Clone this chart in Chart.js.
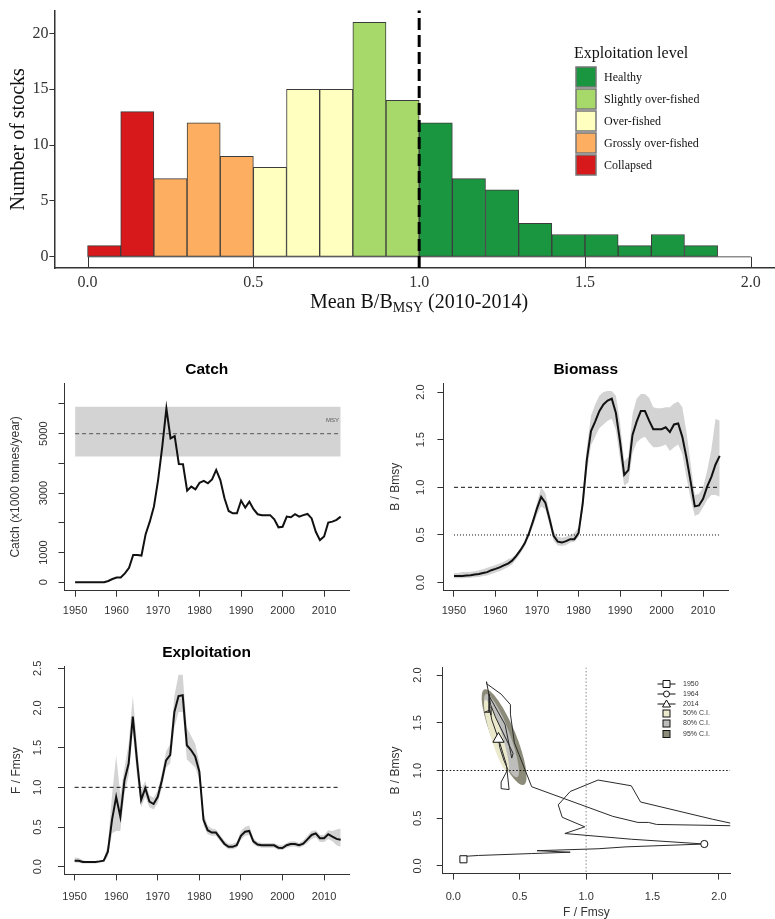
<!DOCTYPE html>
<html><head><meta charset="utf-8">
<script src="https://cdn.jsdelivr.net/npm/chart.js@4.4.0/dist/chart.umd.min.js"></script>
<style>
html,body{margin:0;padding:0;background:#fff;overflow:hidden;width:775px;height:919px;position:relative;}
canvas{position:absolute;display:block;}
</style></head><body>
<canvas id="hist" width="775" height="320" style="left:0;top:0"></canvas>
<canvas id="catch" width="390" height="265" style="left:0;top:355px"></canvas>
<canvas id="biomass" width="385" height="265" style="left:390px;top:355px"></canvas>
<canvas id="exploit" width="390" height="284" style="left:0;top:635px"></canvas>
<canvas id="kobe" width="385" height="270" style="left:390px;top:655px"></canvas>
<script>
// ---------------- DATA ----------------
// Histogram
const binEdges = [0.0,0.1,0.2,0.3,0.4,0.5,0.6,0.7,0.8,0.9,1.0,1.1,1.2,1.3,1.4,1.5,1.6,1.7,1.8,1.9,2.0];
const stockCounts = [1,13,7,12,9,8,15,15,21,14,12,7,6,3,2,2,1,2,1,0];
const levelNames = ['Healthy','Slightly over-fished','Over-fished','Grossly over-fished','Collapsed'];
const levelColors = ['#1A9641','#A6D96A','#FFFFBF','#FDAE61','#D7191C'];
const levelLowerBounds = [1.0,0.8,0.5,0.2,0.0];
const histXTicks = [0,0.5,1.0,1.5,2.0];
const histYTicks = [0,5,10,15,20];
const bmsyThreshold = 1.0;

// Time series
const firstYear = 1950, lastYear = 2014;
const years = Array.from({length: lastYear - firstYear + 1}, (_, i) => firstYear + i);
const catchK = [0,0,0,0,0,0,0,0,45,110,
  160,160,300,490,920,920,900,1620,2040,2550,
  3440,4560,5850,4840,4920,3980,3970,3080,3220,3130,
  3350,3410,3330,3460,3780,3440,2830,2400,2320,2320,
  2750,2510,2710,2460,2290,2260,2260,2260,2120,1850,
  1870,2210,2190,2290,2210,2260,2300,2150,1700,1420,
  1540,2010,2040,2100,2210];
const msyValue = 5000, msyLow = 4230, msyHigh = 5910;

const bBmsy = [0.07,0.07,0.07,0.074,0.077, 0.084,0.09,0.10,0.11,0.13,
  0.144,0.16,0.18,0.20,0.23, 0.28,0.34,0.41,0.51,0.64,
  0.78,0.90,0.84,0.67,0.49, 0.43,0.42,0.435,0.456,0.456,
  0.52,0.83,1.29,1.59,1.69, 1.80,1.87,1.91,1.93,1.78,
  1.48,1.13,1.18,1.55,1.69, 1.80,1.80,1.70,1.61,1.61,
  1.61,1.63,1.58,1.66,1.67, 1.53,1.31,1.06,0.80,0.81,
  0.88,1.01,1.11,1.24,1.33];
const bBmsyUpper = [0.10,0.10,0.11,0.11,0.115, 0.12,0.13,0.14,0.155,0.17,
  0.185,0.20,0.22,0.245,0.26, 0.30,0.36,0.43,0.53,0.67,
  0.84,1.00,0.94,0.74,0.54, 0.48,0.47,0.48,0.50,0.52,
  0.58,0.92,1.42,1.75,1.87, 1.96,2.00,2.01,2.01,1.96,
  1.68,1.27,1.32,1.77,1.93, 1.98,1.98,1.94,1.84,1.83,
  1.83,1.84,1.84,1.88,1.90, 1.84,1.58,1.25,0.92,0.93,
  1.00,1.18,1.40,1.72,1.70];
const bBmsyLower = [0.045,0.045,0.046,0.048,0.05, 0.055,0.06,0.068,0.075,0.09,
  0.105,0.12,0.14,0.165,0.19, 0.245,0.305,0.375,0.47,0.59,
  0.71,0.80,0.77,0.61,0.44, 0.39,0.385,0.395,0.42,0.43,
  0.48,0.75,1.16,1.44,1.53, 1.62,1.66,1.70,1.72,1.60,
  1.30,1.02,1.05,1.36,1.47, 1.51,1.53,1.47,1.42,1.42,
  1.43,1.45,1.38,1.42,1.45, 1.35,1.10,0.88,0.70,0.72,
  0.79,0.87,0.92,0.92,0.90];

const fFmsy = [0.076,0.076,0.06,0.06,0.06, 0.06,0.067,0.076,0.19,0.59,
  0.88,0.63,1.09,1.30,1.89, 1.34,0.84,0.99,0.82,0.79,
  0.88,1.09,1.34,1.41,1.95, 2.15,2.16,1.53,1.47,1.39,
  1.20,0.59,0.46,0.43,0.43, 0.36,0.29,0.25,0.25,0.27,
  0.39,0.44,0.45,0.32,0.28, 0.27,0.27,0.27,0.27,0.24,
  0.235,0.27,0.285,0.285,0.27, 0.29,0.345,0.40,0.42,0.36,
  0.36,0.41,0.38,0.35,0.34];
const fFmsyUpper = [0.12,0.11,0.08,0.07,0.07, 0.07,0.08,0.09,0.28,0.90,
  1.40,0.90,1.25,1.55,2.15, 1.55,0.97,1.08,0.90,0.87,
  0.96,1.18,1.45,1.55,2.15, 2.42,2.42,1.75,1.65,1.55,
  1.32,0.68,0.52,0.48,0.47, 0.40,0.33,0.29,0.29,0.31,
  0.45,0.50,0.52,0.36,0.31, 0.30,0.30,0.30,0.30,0.27,
  0.27,0.30,0.32,0.32,0.30, 0.33,0.39,0.45,0.46,0.40,
  0.40,0.46,0.45,0.47,0.48];
const fFmsyLower = [0.05,0.05,0.04,0.04,0.04, 0.04,0.05,0.06,0.13,0.42,
  0.45,0.45,0.92,1.15,1.70, 1.15,0.75,0.88,0.75,0.72,
  0.80,1.00,1.25,1.30,1.75, 1.95,1.95,1.35,1.30,1.25,
  1.10,0.52,0.41,0.39,0.39, 0.32,0.26,0.22,0.22,0.24,
  0.34,0.39,0.40,0.28,0.25, 0.24,0.24,0.24,0.24,0.21,
  0.21,0.24,0.25,0.25,0.24, 0.26,0.30,0.35,0.37,0.31,
  0.31,0.35,0.32,0.27,0.25];

const yearTicks = [1950,1960,1970,1980,1990,2000,2010];
const catchYTicks = [0,1000,2000,3000,4000,5000,6000];
const catchYLabels = ['0','1000','','3000','','5000',''];
const ratioTicks2 = [0,0.5,1.0,1.5,2.0];
const ratioTicks25 = [0,0.5,1.0,1.5,2.0,2.5];

// Kobe plot
const kobeMarkYears = [1950,1964,2014];
const kobeLegendLabels = ['1950','1964','2014','50% C.I.','80% C.I.','95% C.I.'];
const ciColors = ['#ebe9cb','#bdbdbc','#8c8b79'];
// confidence regions: [F end1, B end1, F end2, B end2, width fraction]
const ci95 = [0.235,1.85,0.53,0.85,0.23];
const ci80 = [0.245,1.80,0.48,0.93,0.19];
const ci50 = [0.24,1.74,0.41,0.98,0.15];

// ---------------- STYLE ----------------
const SANS = "'Liberation Sans', Arial, sans-serif";
const SERIF = "'Liberation Serif', 'Times New Roman', serif";
const AX = '#333';
const TXT = '#333';

// ---------------- HISTOGRAM ----------------
function levelIndex(lo) {
  for (let i = 0; i < levelLowerBounds.length; i++) if (lo >= levelLowerBounds[i] - 1e-9) return i;
  return levelLowerBounds.length - 1;
}
const histBars = stockCounts.map((c, i) => ({x: (binEdges[i] + binEdges[i+1]) / 2, y: c}));
const histColors = stockCounts.map((c, i) => levelColors[levelIndex(binEdges[i])]);

const histPlugin = {
  id: 'histExtras',
  afterDraw(chart) {
    const ctx = chart.ctx, xs = chart.scales.x, ys = chart.scales.y, ca = chart.chartArea;
    ctx.save();
    ctx.strokeStyle = AX; ctx.lineWidth = 1;
    histXTicks.forEach(v => {
      const px = Math.round(xs.getPixelForValue(v)) + 0.5;
      ctx.beginPath(); ctx.moveTo(px, ca.bottom); ctx.lineTo(px, ys.getPixelForValue(0)); ctx.stroke();
    });
    const rx = xs.getPixelForValue(bmsyThreshold);
    ctx.strokeStyle = '#000'; ctx.lineWidth = 3; ctx.setLineDash([12,5]);
    ctx.beginPath(); ctx.moveTo(rx, ca.bottom); ctx.lineTo(rx, ca.top); ctx.stroke();
    ctx.setLineDash([]);
    const main1 = 'Mean B/B', sub = 'MSY', main2 = ' (2010-2014)';
    const fMain = '20px ' + SERIF, fSub = '14px ' + SERIF;
    ctx.font = fMain; const w1 = ctx.measureText(main1).width, w3 = ctx.measureText(main2).width;
    ctx.font = fSub; const w2 = ctx.measureText(sub).width;
    let x0 = 419 - (w1 + w2 + w3) / 2; const yb = 308;
    ctx.fillStyle = '#111'; ctx.textBaseline = 'alphabetic'; ctx.textAlign = 'left';
    ctx.font = fMain; ctx.fillText(main1, x0, yb);
    ctx.font = fSub; ctx.fillText(sub, x0 + w1, yb + 4);
    ctx.font = fMain; ctx.fillText(main2, x0 + w1 + w2, yb);
    ctx.font = '16px ' + SERIF; ctx.textBaseline = 'middle'; ctx.fillStyle = '#111';
    ctx.fillText('Exploitation level', 574, 54);
    ctx.font = '12px ' + SERIF;
    levelNames.forEach((n, i) => {
      const top = 67 + 22 * i;
      ctx.fillStyle = levelColors[i]; ctx.fillRect(576, top, 20, 20);
      ctx.strokeStyle = '#777'; ctx.lineWidth = 1.5; ctx.strokeRect(576, top, 20, 20);
      ctx.fillStyle = '#111'; ctx.fillText(n, 604, top + 11);
    });
    ctx.restore();
  }
};

new Chart(document.getElementById('hist'), {
  type: 'bar',
  data: { datasets: [
    { type: 'bar', data: histBars, backgroundColor: histColors, borderColor: '#3c3c3c', borderWidth: 1,
      borderSkipped: false, barPercentage: 1, categoryPercentage: 1, order: 1 },
    { type: 'line', data: [{x: binEdges[0], y: 0}, {x: binEdges[binEdges.length-1], y: 0}],
      borderColor: '#555', borderWidth: 1, pointRadius: 0, order: 2 }
  ]},
  options: {
    responsive: false, animation: false, events: [],
    layout: { padding: { left: 7, top: 7, right: 0, bottom: 0 } },
    plugins: { legend: { display: false }, tooltip: { enabled: false } },
    scales: {
      x: { type: 'linear', min: -0.1, max: 2.073, offset: false,
        afterBuildTicks: s => { s.ticks = histXTicks.map(v => ({value: v})); },
        afterFit: s => { s.height = 320 - 268; },
        border: { display: true, color: AX, width: 1.5 },
        grid: { display: true, drawOnChartArea: false, drawTicks: false },
        ticks: { font: { family: SERIF, size: 16 }, color: TXT, padding: 5.5, maxRotation: 0, autoSkip: false,
          callback: v => Number(v).toFixed(1) } },
      y: { type: 'linear', min: -1.0, max: 22.04,
        afterBuildTicks: s => { s.ticks = histYTicks.map(v => ({value: v})); },
        afterFit: s => { s.width = 54.4 - 7; },
        border: { display: true, color: AX, width: 1.5 },
        grid: { display: true, drawOnChartArea: false, drawTicks: true, tickLength: 5, color: AX },
        ticks: { font: { family: SERIF, size: 16 }, color: TXT, padding: 1 },
        title: { display: true, text: 'Number of stocks', font: { family: SERIF, size: 20 }, color: '#111',
          padding: { top: 0, bottom: 0 } } }
    }
  },
  plugins: [histPlugin]
});

// ---------------- R-STYLE PANELS ----------------
function rPanel(id, p) {
  const cv = document.getElementById(id);
  const W = cv.width, H = cv.height;
  const tl = 6;
  const panelPlugin = {
    id: 'panel_' + id,
    beforeDatasetsDraw(chart) { if (p.before) p.before(chart); },
    afterDraw(chart) {
      const ctx = chart.ctx, ys = chart.scales.y, ca = chart.chartArea;
      ctx.save();
      ctx.font = '11px ' + SANS; ctx.fillStyle = TXT; ctx.textAlign = 'center'; ctx.textBaseline = 'middle';
      p.yTicks.forEach((v, i) => {
        const lab = p.yLabels[i]; if (!lab) return;
        ctx.save(); ctx.translate(p.yLabelX, ys.getPixelForValue(v)); ctx.rotate(-Math.PI / 2);
        ctx.fillText(lab, 0, 0); ctx.restore();
      });
      if (p.title) {
        ctx.font = 'bold 15.5px ' + SANS; ctx.fillStyle = '#000';
        ctx.fillText(p.title, (ca.left + ca.right) / 2, p.titleY);
      }
      if (p.after) p.after(chart);
      ctx.restore();
    }
  };
  return new Chart(cv, {
    type: p.type || 'line',
    data: { datasets: p.datasets },
    options: {
      responsive: false, animation: false, events: [],
      layout: { padding: { left: 0, top: p.area.t, right: W - p.area.r, bottom: 0 } },
      plugins: { legend: { display: false }, tooltip: { enabled: false } },
      elements: { point: { radius: 0 }, line: { tension: 0 } },
      scales: {
        x: { type: 'linear', min: p.xMin, max: p.xMax, offset: false,
          afterBuildTicks: s => { s.ticks = p.xTicks.map(v => ({value: v})); },
          afterFit: s => { s.height = H - p.area.b; },
          border: { display: true, color: AX, width: 1 },
          grid: { display: true, drawOnChartArea: false, drawTicks: true, tickLength: tl, color: AX },
          ticks: { font: { family: SANS, size: 11 }, color: TXT, padding: p.xTickPad, maxRotation: 0, autoSkip: false,
            callback: (v, i) => p.xLabels[i] },
          title: p.xTitle ? { display: true, text: p.xTitle, font: { family: SANS, size: 12 }, color: TXT,
            padding: { top: 0, bottom: p.xTitlePad } } : { display: false } },
        y: { type: 'linear', min: p.yMin, max: p.yMax,
          afterBuildTicks: s => { s.ticks = p.yTicks.map(v => ({value: v})); },
          afterFit: s => { s.width = p.area.l; },
          border: { display: true, color: AX, width: 1 },
          grid: { display: true, drawOnChartArea: false, drawTicks: true, tickLength: tl, color: AX },
          ticks: { display: false },
          title: { display: true, text: p.yTitle, font: { family: SANS, size: 12 }, color: TXT,
            padding: { top: p.yTitleX - 7.2, bottom: 0 } } }
      }
    },
    plugins: [panelPlugin]
  });
}

const pts = (arr) => years.map((yr, i) => ({x: yr, y: arr[i]}));
const flat = (v) => [{x: firstYear, y: v}, {x: lastYear, y: v}];
const yearLabels = yearTicks.map(String);
const fmt1 = (arr) => arr.map(v => v.toFixed(1));

// Catch
rPanel('catch', {
  area: { l: 64.5, t: 28, r: 349, b: 235.7 },
  xMin: 1947.45, xMax: 2016.0, xTicks: yearTicks, xLabels: yearLabels, xTickPad: 7.7,
  yMin: -283, yMax: 6706, yTicks: catchYTicks, yLabels: catchYLabels, yLabelX: 44,
  yTitle: 'Catch (x1000 tonnes/year)', yTitleX: 16,
  title: 'Catch', titleY: 15,
  datasets: [
    { data: pts(catchK), borderColor: '#111', borderWidth: 2, order: 0 },
    { data: flat(msyValue), borderColor: '#555', borderWidth: 1, borderDash: [4,3], order: 1 },
    { data: flat(msyLow), borderWidth: 0, borderColor: 'rgba(0,0,0,0)', order: 2 },
    { data: flat(msyHigh), borderWidth: 0, borderColor: 'rgba(0,0,0,0)', fill: '-1', backgroundColor: '#d3d3d3', order: 2 }
  ],
  after(chart) {
    const ctx = chart.ctx;
    ctx.font = '6px ' + SANS; ctx.fillStyle = '#555'; ctx.textAlign = 'center'; ctx.textBaseline = 'middle';
    ctx.fillText('MSY', chart.scales.x.getPixelForValue(2012), chart.scales.y.getPixelForValue(5460));
  }
});

// Biomass
rPanel('biomass', {
  area: { l: 53.4, t: 28, r: 338, b: 235.7 },
  xMin: 1947.45, xMax: 2016.0, xTicks: yearTicks, xLabels: yearLabels, xTickPad: 7.7,
  yMin: -0.085, yMax: 2.095, yTicks: ratioTicks2, yLabels: fmt1(ratioTicks2), yLabelX: 31,
  yTitle: 'B / Bmsy', yTitleX: 6,
  title: 'Biomass', titleY: 15,
  datasets: [
    { data: pts(bBmsy), borderColor: '#111', borderWidth: 2, order: 0 },
    { data: flat(1.0), borderColor: '#111', borderWidth: 1, borderDash: [4,3], order: 1 },
    { data: flat(0.5), borderColor: '#111', borderWidth: 1, borderDash: [1,2], order: 1 },
    { data: pts(bBmsyLower), borderWidth: 0, borderColor: 'rgba(0,0,0,0)', order: 2 },
    { data: pts(bBmsyUpper), borderWidth: 0, borderColor: 'rgba(0,0,0,0)', fill: '-1', backgroundColor: '#d3d3d3', order: 2 }
  ]
});

// Exploitation
rPanel('exploit', {
  area: { l: 64, t: 31.7, r: 349, b: 239.4 },
  xMin: 1947.45, xMax: 2016.0, xTicks: yearTicks, xLabels: yearLabels, xTickPad: 9.7,
  yMin: -0.097, yMax: 2.52, yTicks: ratioTicks25, yLabels: fmt1(ratioTicks25), yLabelX: 38,
  yTitle: 'F / Fmsy', yTitleX: 17,
  title: 'Exploitation', titleY: 18,
  datasets: [
    { data: pts(fFmsy), borderColor: '#111', borderWidth: 2, order: 0 },
    { data: flat(1.0), borderColor: '#111', borderWidth: 1, borderDash: [4,3], order: 1 },
    { data: pts(fFmsyLower), borderWidth: 0, borderColor: 'rgba(0,0,0,0)', order: 2 },
    { data: pts(fFmsyUpper), borderWidth: 0, borderColor: 'rgba(0,0,0,0)', fill: '-1', backgroundColor: '#d3d3d3', order: 2 }
  ]
});

// Kobe
const kobeTraj = years.map((yr, i) => ({x: fFmsy[i], y: bBmsy[i]}));
const kobePoint = (yr) => { const i = years.indexOf(yr); return [{x: fFmsy[i], y: bBmsy[i]}]; };
const markerStyles = ['rect', 'circle', 'triangle'];
const markerRadius = [5, 3.6, 6.5];

function drawCI(chart, ci, color) {
  const ctx = chart.ctx, xs = chart.scales.x, ys = chart.scales.y;
  const x1 = xs.getPixelForValue(ci[0]), y1 = ys.getPixelForValue(ci[1]);
  const x2 = xs.getPixelForValue(ci[2]), y2 = ys.getPixelForValue(ci[3]);
  const len = Math.hypot(x2 - x1, y2 - y1);
  ctx.fillStyle = color;
  ctx.beginPath();
  ctx.ellipse((x1 + x2) / 2, (y1 + y2) / 2, len / 2, len * ci[4] / 2, Math.atan2(y2 - y1, x2 - x1), 0, Math.PI * 2);
  ctx.fill();
}

rPanel('kobe', {
  type: 'scatter',
  area: { l: 52.7, t: 12.4, r: 340.2, b: 218.6 },
  xMin: -0.08, xMax: 2.085, xTicks: ratioTicks2, xLabels: fmt1(ratioTicks2), xTickPad: 10.8,
  xTitle: 'F / Fmsy', xTitlePad: 270 - 7.2 - 258,
  yMin: -0.08, yMax: 2.08, yTicks: ratioTicks2, yLabels: fmt1(ratioTicks2), yLabelX: 28,
  yTitle: 'B / Bmsy', yTitleX: 6,
  datasets: [
    ...kobeMarkYears.map((yr, k) => ({ data: kobePoint(yr), pointStyle: markerStyles[k], pointRadius: markerRadius[k],
      backgroundColor: '#fff', borderColor: '#111', borderWidth: 1, showLine: false, order: 0 })),
    { data: kobeTraj, showLine: true, borderColor: '#2a2a2a', borderWidth: 1, pointRadius: 0, order: 1 }
  ],
  before(chart) {
    const ctx = chart.ctx, xs = chart.scales.x, ys = chart.scales.y, ca = chart.chartArea;
    ctx.save();
    ctx.beginPath(); ctx.rect(ca.left, ca.top, ca.right - ca.left, ca.bottom - ca.top); ctx.clip();
    drawCI(chart, ci95, ciColors[2]);
    drawCI(chart, ci80, ciColors[1]);
    drawCI(chart, ci50, ciColors[0]);
    ctx.lineWidth = 1; ctx.setLineDash([1.5, 2]);
    const vx = xs.getPixelForValue(1.0);
    ctx.strokeStyle = '#888';
    ctx.beginPath(); ctx.moveTo(vx, ca.top); ctx.lineTo(vx, ca.bottom); ctx.stroke();
    const hy = ys.getPixelForValue(1.0);
    ctx.strokeStyle = '#111';
    ctx.beginPath(); ctx.moveTo(ca.left, hy); ctx.lineTo(ca.right, hy); ctx.stroke();
    ctx.restore();
  },
  after(chart) {
    const ctx = chart.ctx;
    const rows = [29, 39, 49, 58.5, 68.5, 79];
    const sx = 276.5;
    ctx.font = '7px ' + SANS; ctx.textAlign = 'left'; ctx.textBaseline = 'middle';
    kobeLegendLabels.forEach((lab, i) => {
      const y = rows[i];
      ctx.strokeStyle = '#111'; ctx.lineWidth = 1; ctx.setLineDash([]);
      if (i < 3) {
        ctx.beginPath(); ctx.moveTo(sx - 9, y); ctx.lineTo(sx + 9, y); ctx.stroke();
        ctx.fillStyle = '#fff'; ctx.beginPath();
        if (i === 0) { ctx.rect(sx - 3.5, y - 3.5, 7, 7); }
        else if (i === 1) { ctx.arc(sx, y, 3, 0, Math.PI * 2); }
        else { ctx.moveTo(sx, y - 4); ctx.lineTo(sx + 4, y + 3); ctx.lineTo(sx - 4, y + 3); ctx.closePath(); }
        ctx.fill(); ctx.stroke();
      } else {
        ctx.fillStyle = ciColors[i - 3];
        ctx.fillRect(sx - 3.5, y - 3.5, 7, 7); ctx.strokeRect(sx - 3.5, y - 3.5, 7, 7);
      }
      ctx.fillStyle = TXT; ctx.fillText(lab, 293, y);
    });
  }
});
</script>
</body></html>
